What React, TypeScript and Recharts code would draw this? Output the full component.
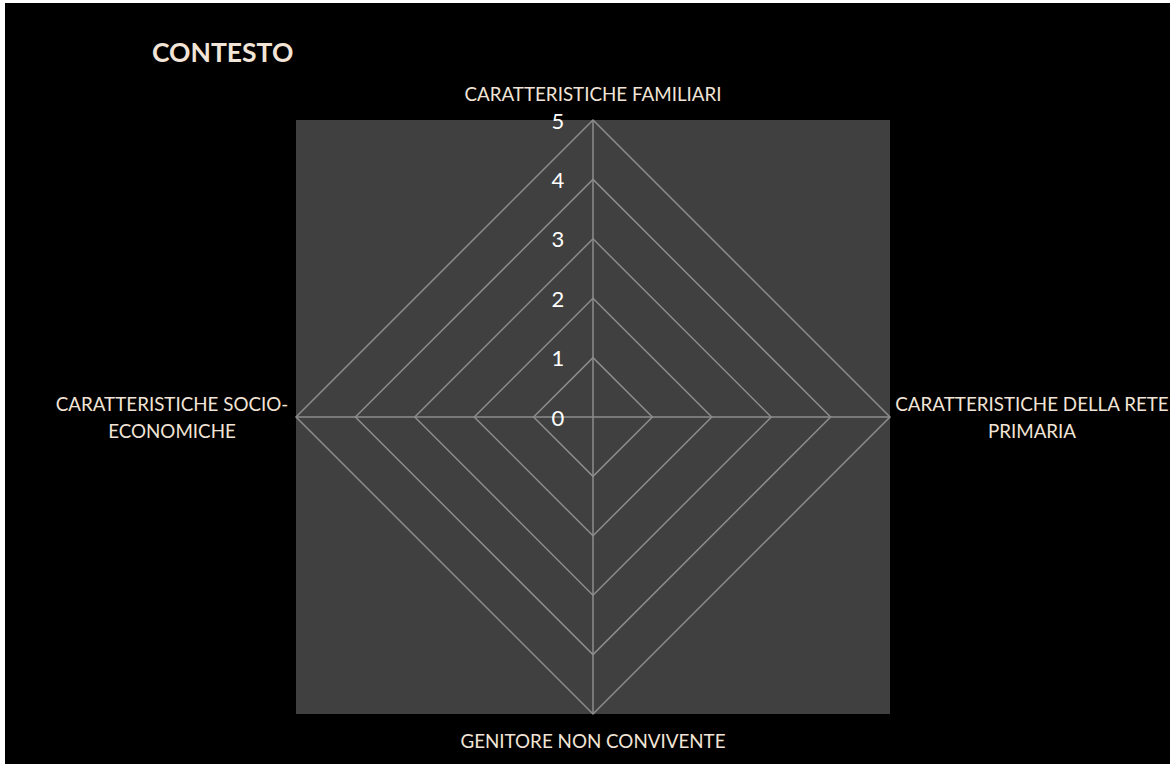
import React from "react";
import { RadarChart, PolarGrid, PolarAngleAxis, PolarRadiusAxis, Radar } from "recharts";

const categories = [
  "CARATTERISTICHE FAMILIARI",
  "CARATTERISTICHE DELLA RETE PRIMARIA",
  "GENITORE NON CONVIVENTE",
  "CARATTERISTICHE SOCIO-ECONOMICHE",
];
const categoryLines: string[][] = [
  ["CARATTERISTICHE FAMILIARI"],
  ["CARATTERISTICHE DELLA RETE", "PRIMARIA"],
  ["GENITORE NON CONVIVENTE"],
  ["CARATTERISTICHE SOCIO-", "ECONOMICHE"],
];
const seriesValues = [0, 0, 0, 0];
const radiusTicks = [0, 1, 2, 3, 4, 5];
const title = "CONTESTO";

const data = categories.map((c, i) => ({ category: c, value: seriesValues[i] }));

const W = 1165;
const H = 761;
const CX = 588;
const CY = 414;
const R = 297;
const LABEL_COLOR = "#f2e4d6";
const FONT = "Lato, 'Open Sans', sans-serif";

const AngleTick = (props: any) => {
  const idx = categories.indexOf(props.payload?.value);
  const lines = categoryLines[idx] || [String(props.payload?.value)];
  let x = CX;
  let y = CY;
  if (idx === 0) { x = CX; y = CY - R - 27; }
  else if (idx === 1) { x = CX + R + 142; y = CY - 14; }
  else if (idx === 2) { x = CX; y = CY + R + 26; }
  else { x = CX - R - 124; y = CY - 14; }
  return (
    <text x={x} y={y} textAnchor="middle" dominantBaseline="central" fill={LABEL_COLOR} fontSize={18.8} fontFamily={FONT}>
      {lines.map((l, i) => (
        <tspan key={i} x={x} dy={i === 0 ? 0 : 27}>{l}</tspan>
      ))}
    </text>
  );
};

const RadiusTick = (props: any) => {
  const { x, y, payload } = props;
  return (
    <text x={x - 35} y={y} textAnchor="middle" dominantBaseline="central" fill="#ffffff" fontSize={22} fontFamily={FONT}>
      {payload.value}
    </text>
  );
};

export default function App() {
  return (
    <div style={{ position: "absolute", left: 5, top: 3, width: W, height: H, background: "#000000" }}>
      <div style={{ position: "absolute", left: CX - R, top: CY - R, width: 2 * R, height: 2 * R, background: "#404040" }} />
      <div style={{ position: "absolute", left: 147, top: 33, color: LABEL_COLOR, fontFamily: FONT, fontWeight: 700, fontSize: 26.5, lineHeight: "32px" }}>
        {title}
      </div>
      <div style={{ position: "absolute", left: 0, top: 0 }}>
        <RadarChart width={W} height={H} data={data} cx={CX} cy={CY} outerRadius={R} startAngle={90} endAngle={-270}>
          <PolarGrid gridType="polygon" stroke="#8c8c8c" strokeWidth={1.5} />
          <PolarAngleAxis dataKey="category" tick={<AngleTick />} tickLine={false} axisLine={false} />
          <PolarRadiusAxis angle={90} domain={[0, 5]} ticks={radiusTicks as any} tickCount={6} axisLine={false} tickLine={false} tick={<RadiusTick />} />
          <Radar dataKey="value" stroke="none" fill="none" isAnimationActive={false} />
        </RadarChart>
      </div>
    </div>
  );
}
